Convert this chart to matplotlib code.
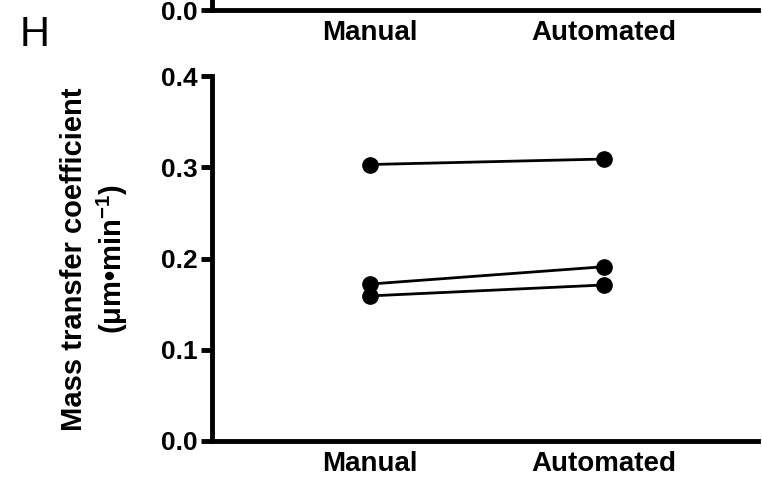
import matplotlib
matplotlib.use("Agg")
import matplotlib.pyplot as plt

plt.rcParams['font.family'] = ['Liberation Sans', 'DejaVu Sans']
plt.rcParams['mathtext.fontset'] = 'custom'
plt.rcParams['mathtext.rm'] = 'Liberation Sans:bold'
plt.rcParams['mathtext.bf'] = 'Liberation Sans:bold'
plt.rcParams['mathtext.default'] = 'bf'

# data
groups = ["Manual", "Automated"]
manual = [0.303, 0.172, 0.159]
automated = [0.309, 0.191, 0.171]
yticks = [0.0, 0.1, 0.2, 0.3, 0.4]

W, H = 762, 478
fig = plt.figure(figsize=(W / 100, H / 100), dpi=100)

lw = 3.5
xlim = (-0.675, 1.658)


def style(ax):
    for s in ("top", "right"):
        ax.spines[s].set_visible(False)
    for s in ("left", "bottom"):
        ax.spines[s].set_linewidth(lw)
    ax.tick_params(axis="y", length=8, width=lw, pad=2, labelsize=19)
    ax.tick_params(axis="x", length=0, pad=7, labelsize=20)
    ax.set_xticks(range(len(groups)))
    ax.set_xticklabels(groups, fontweight="bold")
    ax.set_xlim(*xlim)
    for t in ax.get_yticklabels():
        t.set_fontweight("bold")


# top panel (only its bottom edge is visible)
ax_top = fig.add_axes([212 / W, 1 - 10 / H, (758 - 212) / W, 0.6])
ax_top.set_ylim(0, 0.4)
ax_top.set_yticks([0.0])
ax_top.set_yticklabels(["0.0"])
style(ax_top)

# main panel
ax = fig.add_axes([212 / W, 1 - 441 / H, (758 - 212) / W, (441 - 76) / H])
for m, a in zip(manual, automated):
    ax.plot([0, 1], [m, a], color="black", lw=2, marker="o", ms=11,
            clip_on=False, zorder=3)
ax.set_ylim(0, 0.4)
ax.set_yticks(yticks)
ax.set_yticklabels([f"{v:.1f}" for v in yticks])
style(ax)

fig.text(95 / W, 1 - 259 / H,
         "Mass transfer coefficient\n(μm•min$^{-1}$)",
         rotation=90, ha="center", va="center", multialignment="center",
         fontsize=21, fontweight="bold", linespacing=1.25)

fig.text(20 / W, 1 - 15 / H, "H", fontsize=30, ha="left", va="top")

fig.savefig("out.png", dpi=100)
